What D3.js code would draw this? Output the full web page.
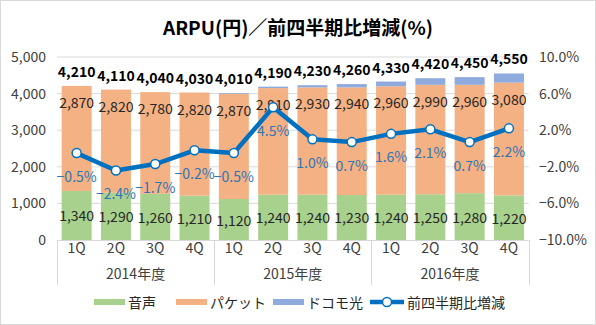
<!DOCTYPE html>
<html>
<head>
<meta charset="utf-8">
<script src="https://cdn.jsdelivr.net/npm/d3@7"></script>
<style>
  body { margin: 0; background: #fff; }
  text { font-family: "Noto Sans CJK JP", "Noto Sans", sans-serif; }
</style>
</head>
<body>
<script>
const WIDTH = 596;
const HEIGHT = 325;

// datos
const trimestres = ["1Q", "2Q", "3Q", "4Q", "1Q", "2Q", "3Q", "4Q", "1Q", "2Q", "3Q", "4Q"];
const anios = ["2014年度", "2015年度", "2016年度"];
const voz = [1340, 1290, 1260, 1210, 1120, 1240, 1240, 1230, 1240, 1250, 1280, 1220];
const paquete = [2870, 2820, 2780, 2820, 2870, 2910, 2930, 2940, 2960, 2990, 2960, 3080];
const hikari = [0, 0, 0, 0, 20, 40, 60, 90, 130, 180, 210, 250];
const totales = [4210, 4110, 4040, 4030, 4010, 4190, 4230, 4260, 4330, 4420, 4450, 4550];
const variacion = [-0.5, -2.4, -1.7, -0.2, -0.5, 4.5, 1.0, 0.7, 1.6, 2.1, 0.7, 2.2];
const ticksIzq = [0, 1000, 2000, 3000, 4000, 5000];
const ticksDer = [-10, -6, -2, 2, 6, 10];
const series = ["音声", "パケット", "ドコモ光"];
const colores = ["#A9D18E", "#F4B183", "#8FAADC"];
const nombreLinea = "前四半期比増減";
const AZUL = "#0070C0";

const svg = d3.select("body").append("svg")
  .attr("width", WIDTH)
  .attr("height", HEIGHT);

// marco
svg.append("rect")
  .attr("x", 0.5).attr("y", 0.5)
  .attr("width", WIDTH - 1).attr("height", HEIGHT - 1)
  .attr("fill", "#fff").attr("stroke", "#D9D9D9");

// título
svg.append("text")
  .attr("x", 298).attr("y", 26)
  .attr("text-anchor", "middle")
  .attr("dominant-baseline", "central")
  .attr("font-size", 19)
  .attr("font-weight", "bold")
  .text("ARPU(円)／前四半期比増減(%)");

const x = d3.scaleBand()
  .domain(d3.range(trimestres.length))
  .range([57, 528.6])
  .paddingInner(0.237)
  .paddingOuter(0.1185);

const y = d3.scaleLinear().domain([0, 5000]).range([240, 57]);
const yDer = d3.scaleLinear().domain([-10, 10]).range([240, 57]);

// líneas de grilla
svg.append("g")
  .selectAll("line")
  .data(ticksIzq.slice(1))
  .join("line")
  .attr("x1", 57).attr("x2", 528.6)
  .attr("y1", d => y(d)).attr("y2", d => y(d))
  .attr("stroke", "#D9D9D9");

// eje izquierdo
const ejeIzq = svg.append("g")
  .attr("transform", "translate(46,0)")
  .call(d3.axisLeft(y).tickValues(ticksIzq).tickFormat(d3.format(",")).tickSize(0).tickPadding(0));
ejeIzq.select(".domain").remove();
ejeIzq.selectAll("text").attr("font-size", 14).attr("fill", "#404040")
  .attr("font-family", "\"Noto Sans CJK JP\", sans-serif");

// eje derecho
const ejeDer = svg.append("g")
  .attr("transform", "translate(539,0)")
  .call(d3.axisRight(yDer).tickValues(ticksDer).tickFormat(d => d3.format(".1f")(d) + "%").tickSize(0).tickPadding(0));
ejeDer.select(".domain").remove();
ejeDer.selectAll("text").attr("font-size", 14).attr("fill", "#404040")
  .attr("font-family", "\"Noto Sans CJK JP\", sans-serif");

// barras apiladas
const filas = trimestres.map((q, i) => ({ i, voz: voz[i], paquete: paquete[i], hikari: hikari[i] }));
const pila = d3.stack().keys(["voz", "paquete", "hikari"])(filas);

svg.append("g")
  .selectAll("g")
  .data(pila)
  .join("g")
  .attr("fill", (d, k) => colores[k])
  .selectAll("rect")
  .data(d => d)
  .join("rect")
  .attr("x", d => x(d.data.i))
  .attr("width", x.bandwidth())
  .attr("y", d => y(d[1]))
  .attr("height", d => y(d[0]) - y(d[1]));

// eje x
svg.append("line")
  .attr("x1", 57).attr("x2", 528.6)
  .attr("y1", 240.5).attr("y2", 240.5)
  .attr("stroke", "#D9D9D9");

const hueco = (x.step() - x.bandwidth()) / 2;
const bordes = [0, 4, 8].map(i => x(i) - hueco).concat([528.6]);
svg.append("g")
  .selectAll("line")
  .data(bordes)
  .join("line")
  .attr("x1", d => Math.round(d) + 0.5).attr("x2", d => Math.round(d) + 0.5)
  .attr("y1", 240).attr("y2", 285)
  .attr("stroke", "#D9D9D9");

const ejeX = svg.append("g")
  .attr("transform", "translate(0,243)")
  .call(d3.axisBottom(x).tickFormat(i => trimestres[i]).tickSize(0).tickPadding(0));
ejeX.select(".domain").remove();
ejeX.selectAll("text").attr("font-size", 14).attr("fill", "#404040")
  .attr("font-family", "\"Noto Sans CJK JP\", sans-serif");

svg.append("g")
  .selectAll("text")
  .data(anios)
  .join("text")
  .attr("x", (d, k) => (bordes[k] + bordes[k + 1]) / 2)
  .attr("y", 273)
  .attr("text-anchor", "middle")
  .attr("dominant-baseline", "central")
  .attr("font-size", 14)
  .attr("fill", "#404040")
  .text(d => d);

// etiquetas de barras
const fmt = d3.format(",");
const cx = i => x(i) + x.bandwidth() / 2;

svg.append("g")
  .selectAll("text")
  .data(voz)
  .join("text")
  .attr("x", (d, i) => cx(i))
  .attr("y", d => y(d / 2))
  .attr("text-anchor", "middle")
  .attr("dominant-baseline", "central")
  .attr("font-size", 14)
  .attr("fill", "#262626")
  .text(d => fmt(d));

svg.append("g")
  .selectAll("text")
  .data(paquete)
  .join("text")
  .attr("x", (d, i) => cx(i))
  .attr("y", (d, i) => y(voz[i] + d) + 16)
  .attr("text-anchor", "middle")
  .attr("dominant-baseline", "central")
  .attr("font-size", 14)
  .attr("fill", "#262626")
  .text(d => fmt(d));

svg.append("g")
  .selectAll("text")
  .data(totales)
  .join("text")
  .attr("x", (d, i) => cx(i))
  .attr("y", d => y(d) - 15)
  .attr("text-anchor", "middle")
  .attr("dominant-baseline", "central")
  .attr("font-size", 14)
  .attr("font-weight", "bold")
  .attr("fill", "#000")
  .text(d => fmt(d));

// línea de variación
const linea = d3.line()
  .x((d, i) => cx(i))
  .y(d => yDer(d));

svg.append("path")
  .datum(variacion)
  .attr("d", linea)
  .attr("fill", "none")
  .attr("stroke", AZUL)
  .attr("stroke-width", 4.5)
  .attr("stroke-linejoin", "round");

svg.append("g")
  .selectAll("circle")
  .data(variacion)
  .join("circle")
  .attr("cx", (d, i) => cx(i))
  .attr("cy", d => yDer(d))
  .attr("r", 4.5)
  .attr("fill", "#fff")
  .attr("stroke", AZUL)
  .attr("stroke-width", 1.5);

svg.append("g")
  .selectAll("text")
  .data(variacion)
  .join("text")
  .attr("x", (d, i) => cx(i))
  .attr("y", d => yDer(d) + 22.5)
  .attr("text-anchor", "middle")
  .attr("dominant-baseline", "central")
  .attr("font-size", 14)
  .attr("fill", "#2E75B6")
  .text(d => d3.format(".1f")(d) + "%");

// leyenda
const leyenda = svg.append("g");
const posLeyenda = [94, 176, 273];
series.forEach((s, k) => {
  leyenda.append("rect")
    .attr("x", posLeyenda[k]).attr("y", 299)
    .attr("width", 31).attr("height", 6)
    .attr("fill", colores[k]);
  leyenda.append("text")
    .attr("x", posLeyenda[k] + 34).attr("y", 302)
    .attr("dominant-baseline", "central")
    .attr("font-size", 14)
    .attr("fill", "#262626")
    .text(s);
});
leyenda.append("line")
  .attr("x1", 370).attr("x2", 404)
  .attr("y1", 302).attr("y2", 302)
  .attr("stroke", AZUL).attr("stroke-width", 4.5);
leyenda.append("circle")
  .attr("cx", 387).attr("cy", 302).attr("r", 4.5)
  .attr("fill", "#fff").attr("stroke", AZUL).attr("stroke-width", 1.5);
leyenda.append("text")
  .attr("x", 407).attr("y", 302)
  .attr("dominant-baseline", "central")
  .attr("font-size", 14)
  .attr("fill", "#262626")
  .text(nombreLinea);
</script>
</body>
</html>
